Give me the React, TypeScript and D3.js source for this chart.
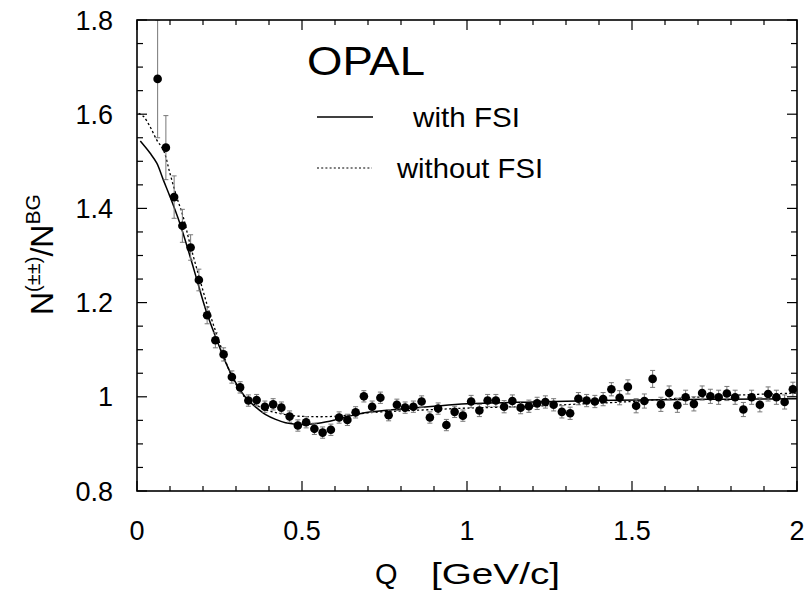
import React from "react";
import * as d3 from "d3";

// ---- data ----
const qBins = [
  0.0625, 0.0875, 0.1125, 0.1375, 0.1625, 0.1875, 0.2125, 0.2375, 0.2625, 0.2875,
  0.3125, 0.3375, 0.3625, 0.3875, 0.4125, 0.4375, 0.4625, 0.4875, 0.5125, 0.5375,
  0.5625, 0.5875, 0.6125, 0.6375, 0.6625, 0.6875, 0.7125, 0.7375, 0.7625, 0.7875,
  0.8125, 0.8375, 0.8625, 0.8875, 0.9125, 0.9375, 0.9625, 0.9875, 1.0125, 1.0375,
  1.0625, 1.0875, 1.1125, 1.1375, 1.1625, 1.1875, 1.2125, 1.2375, 1.2625, 1.2875,
  1.3125, 1.3375, 1.3625, 1.3875, 1.4125, 1.4375, 1.4625, 1.4875, 1.5125, 1.5375,
  1.5625, 1.5875, 1.6125, 1.6375, 1.6625, 1.6875, 1.7125, 1.7375, 1.7625, 1.7875,
  1.8125, 1.8375, 1.8625, 1.8875, 1.9125, 1.9375, 1.9625, 1.9875,
];
const ratioValues = [
  1.675, 1.529, 1.424, 1.363, 1.317, 1.248, 1.173, 1.12, 1.09, 1.042,
  1.02, 0.992, 0.993, 0.979, 0.984, 0.977, 0.958, 0.939, 0.946, 0.932,
  0.924, 0.93, 0.956, 0.951, 0.967, 1.001, 0.979, 0.998, 0.961, 0.983,
  0.977, 0.979, 0.99, 0.956, 0.975, 0.94, 0.968, 0.96, 0.99, 0.971,
  0.992, 0.992, 0.979, 0.991, 0.977, 0.98, 0.986, 0.989, 0.983, 0.968,
  0.965, 0.996, 0.992, 0.99, 0.995, 1.016, 0.998, 1.021, 0.981, 0.991,
  1.038, 0.984, 1.008, 0.982, 0.999, 0.985, 1.008, 1.001, 0.999, 1.007,
  0.999, 0.973, 0.999, 0.983, 1.006, 0.999, 0.989, 1.016,
];
const ratioErrors = [
  0.125, 0.068, 0.045, 0.035, 0.027, 0.023, 0.018, 0.016, 0.014, 0.013,
  0.012, 0.012, 0.012, 0.012, 0.012, 0.012, 0.012, 0.012, 0.012, 0.012,
  0.012, 0.012, 0.012, 0.012, 0.012, 0.012, 0.012, 0.012, 0.012, 0.012,
  0.012, 0.012, 0.012, 0.012, 0.012, 0.012, 0.012, 0.012, 0.013, 0.013,
  0.013, 0.013, 0.013, 0.013, 0.013, 0.013, 0.013, 0.013, 0.013, 0.013,
  0.013, 0.013, 0.013, 0.013, 0.014, 0.014, 0.015, 0.015, 0.015, 0.015,
  0.018, 0.015, 0.015, 0.015, 0.015, 0.015, 0.015, 0.015, 0.015, 0.015,
  0.015, 0.015, 0.015, 0.015, 0.015, 0.015, 0.015, 0.015,
];

const fsiQ = [0.01, 0.04, 0.06, 0.08, 0.1, 0.13, 0.16, 0.18, 0.21, 0.24, 0.27, 0.3, 0.33, 0.36, 0.39, 0.42, 0.45, 0.5, 0.55, 0.6, 0.65, 0.7, 0.8, 0.9, 1.0, 1.2, 1.4, 1.6, 1.8, 2.0];
const fsiV = [1.543, 1.517, 1.496, 1.46, 1.425, 1.368, 1.3, 1.252, 1.181, 1.124, 1.071, 1.029, 0.998, 0.978, 0.962, 0.952, 0.945, 0.941, 0.944, 0.951, 0.96, 0.967, 0.974, 0.98, 0.985, 0.989, 0.992, 0.994, 0.995, 0.996];

const noFsiQ = [0.005, 0.02, 0.04, 0.06, 0.08, 0.1, 0.12, 0.14, 0.16, 0.19, 0.22, 0.25, 0.28, 0.31, 0.34, 0.37, 0.4, 0.43, 0.47, 0.52, 0.58, 0.64, 0.7, 0.8, 0.9, 1.0, 1.2, 1.35, 1.5, 1.6, 1.8, 2.0];
const noFsiV = [1.602, 1.595, 1.573, 1.545, 1.524, 1.474, 1.425, 1.382, 1.326, 1.25, 1.178, 1.115, 1.055, 1.015, 0.99, 0.979, 0.97, 0.965, 0.96, 0.958, 0.958, 0.961, 0.966, 0.97, 0.973, 0.976, 0.98, 0.985, 0.99, 0.995, 1.003, 1.008];

const xTickLabels = [0, 0.5, 1, 1.5, 2];
const yTickLabels = [0.8, 1, 1.2, 1.4, 1.6, 1.8];
const legendLabels = ["with FSI", "without FSI"];

const W = 808;
const H = 590;
const FONT = "'Liberation Sans', Arial, Helvetica, sans-serif";

export default function App() {
  const left = 137, right = 797, top = 20, bottom = 491;
  const x = d3.scaleLinear().domain([0, 2]).range([left, right]);
  const y = d3.scaleLinear().domain([0.8, 1.8]).range([bottom, top]);

  const xMinor = d3.range(0, 21).map((i) => i * 0.1);
  const yMinor = d3.range(0, 21).map((i) => 0.8 + i * 0.05);

  const line = d3
    .line<[number, number]>()
    .x((d) => x(d[0]))
    .y((d) => y(d[1]))
    .curve(d3.curveCatmullRom.alpha(0.5));

  const fsiPath = line(fsiQ.map((q, i) => [q, fsiV[i]] as [number, number])) || "";
  const noFsiPath = line(noFsiQ.map((q, i) => [q, noFsiV[i]] as [number, number])) || "";

  const isMajorX = (v: number) => Math.abs(v * 2 - Math.round(v * 2)) < 1e-6;
  const isMajorY = (v: number) => Math.abs(v * 5 - Math.round(v * 5)) < 1e-6;

  return (
    <svg
      width={W}
      height={H}
      style={{ position: "absolute", left: 0, top: 0, background: "#fff" }}
      fontFamily={FONT}
    >
      <defs>
        <clipPath id="plotClip">
          <rect x={left} y={top} width={right - left} height={bottom - top} />
        </clipPath>
      </defs>
      <rect width={W} height={H} fill="#fff" />

      {/* curves */}
      <g clipPath="url(#plotClip)">
        <path d={noFsiPath} fill="none" stroke="#000" strokeWidth={1.3} strokeDasharray="2.2,2.4" />
        <path d={fsiPath} fill="none" stroke="#000" strokeWidth={1.5} />
      </g>

      {/* error bars */}
      <g clipPath="url(#plotClip)" stroke="#777" strokeWidth={1}>
        {qBins.map((q, i) => {
          const cx = x(q);
          const y1 = y(ratioValues[i] + ratioErrors[i]);
          const y2 = y(ratioValues[i] - ratioErrors[i]);
          return (
            <g key={i}>
              <line x1={cx} x2={cx} y1={y1} y2={y2} />
              <line x1={cx - 2.5} x2={cx + 2.5} y1={y1} y2={y1} />
              <line x1={cx - 2.5} x2={cx + 2.5} y1={y2} y2={y2} />
            </g>
          );
        })}
      </g>

      {/* markers */}
      <g fill="#000">
        {qBins.map((q, i) => (
          <circle key={i} cx={x(q)} cy={y(ratioValues[i])} r={4.3} />
        ))}
      </g>

      {/* frame */}
      <rect x={left} y={top} width={right - left} height={bottom - top} fill="none" stroke="#000" strokeWidth={1.6} />

      {/* ticks */}
      <g stroke="#000" strokeWidth={1.2}>
        {xMinor.map((v, i) => {
          const len = isMajorX(v) ? 10 : 5;
          return (
            <g key={"x" + i}>
              <line x1={x(v)} x2={x(v)} y1={bottom} y2={bottom - len} />
              <line x1={x(v)} x2={x(v)} y1={top} y2={top + len} />
            </g>
          );
        })}
        {yMinor.map((v, i) => {
          const len = isMajorY(v) ? 10 : 6;
          return (
            <g key={"y" + i}>
              <line x1={left} x2={left + len} y1={y(v)} y2={y(v)} />
              <line x1={right} x2={right - len} y1={y(v)} y2={y(v)} />
            </g>
          );
        })}
      </g>

      {/* tick labels */}
      <g fontSize={27} fill="#000">
        {xTickLabels.map((v) => (
          <text key={"xl" + v} x={x(v)} y={540} textAnchor="middle">
            {String(v)}
          </text>
        ))}
        {yTickLabels.map((v) => (
          <text key={"yl" + v} x={113} y={y(v) + 9.5} textAnchor="end">
            {String(v)}
          </text>
        ))}
      </g>

      {/* axis titles */}
      <text x={375} y={584} fontSize={29} fill="#000">Q</text>
      <text x={431} y={584} fontSize={29} fill="#000" textLength={129} lengthAdjust="spacingAndGlyphs">
        [GeV/c]
      </text>
      <text transform="translate(53,315) rotate(-90)" fontSize={32} fill="#000">
        N
        <tspan fontSize={20} dy={-13}>(±±)</tspan>
        <tspan fontSize={32} dy={13}>/N</tspan>
        <tspan fontSize={21} dy={-13}>BG</tspan>
      </text>

      {/* OPAL + legend */}
      <text x={307} y={75} fontSize={40} fill="#000" textLength={118} lengthAdjust="spacingAndGlyphs">OPAL</text>
      <line x1={317} x2={373} y1={117} y2={117} stroke="#000" strokeWidth={1.3} />
      <text x={413} y={127} fontSize={28} fill="#000" textLength={107} lengthAdjust="spacingAndGlyphs">{legendLabels[0]}</text>
      <line x1={317} x2={372} y1={168} y2={168} stroke="#000" strokeWidth={1.1} strokeDasharray="2,2.2" />
      <text x={397} y={178} fontSize={28} fill="#000" textLength={146} lengthAdjust="spacingAndGlyphs">{legendLabels[1]}</text>
    </svg>
  );
}
